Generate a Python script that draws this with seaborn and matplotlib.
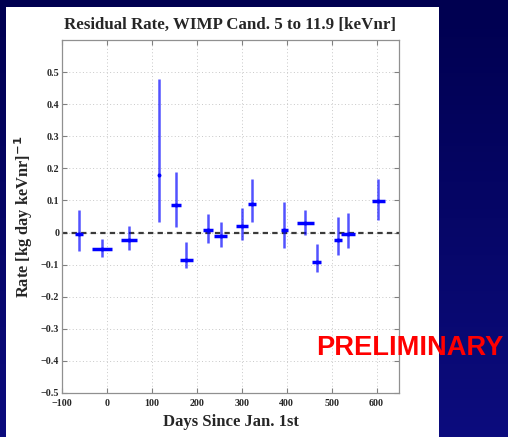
import numpy as np
import matplotlib
matplotlib.use("Agg")
import matplotlib.pyplot as plt
import seaborn as sns
import pandas as pd
from matplotlib.patches import Rectangle
from matplotlib.colors import LinearSegmentedColormap

# ---- data ----
days = [-62, -11, 49, 115, 153, 177, 225, 253, 300, 322, 395, 441, 467, 515, 536, 604]
rate = [-0.004, -0.050, -0.022, 0.180, 0.087, -0.086, 0.007, -0.011,
        0.020, 0.090, 0.009, 0.030, -0.091, -0.024, -0.003, 0.097]
rate_hi = [0.071, -0.019, 0.020, 0.477, 0.190, -0.028, 0.059, 0.032,
           0.077, 0.167, 0.095, 0.071, -0.037, 0.049, 0.061, 0.168]
rate_lo = [-0.058, -0.075, -0.055, 0.033, 0.018, -0.110, -0.034, -0.044,
           -0.024, 0.032, -0.048, -0.008, -0.122, -0.071, -0.048, 0.040]
days_half = [8, 23, 18, 1, 11, 14, 12, 15, 13, 9, 7, 19, 10, 9, 16, 14]

xticks = [-100, 0, 100, 200, 300, 400, 500, 600]
yticks = [-0.5, -0.4, -0.3, -0.2, -0.1, 0, 0.1, 0.2, 0.3, 0.4, 0.5]
ytick_labels = ["\u22120.5", "\u22120.4", "\u22120.3", "\u22120.2", "\u22120.1", "0",
                "0.1", "0.2", "0.3", "0.4", "0.5"]

df = pd.DataFrame({"days": days, "rate": rate})

sns.set_theme(style="white")
plt.rcParams["font.family"] = ["Liberation Serif", "DejaVu Serif"]

W, H = 508, 437
fig = plt.figure(figsize=(W / 100, H / 100), dpi=100)

# background gradient + white panel
bg = fig.add_axes([0, 0, 1, 1], zorder=-10)
grad = np.linspace(0, 1, 256).reshape(-1, 1)
cmap = LinearSegmentedColormap.from_list("bg", ["#000050", "#0c0c7e"])
bg.imshow(grad, aspect="auto", cmap=cmap, extent=[0, 1, 0, 1], origin="upper")
bg.add_patch(Rectangle((6 / W, 0), (439 - 6) / W, (H - 7) / H, facecolor="white",
                       edgecolor="none", transform=bg.transAxes))
bg.set_xlim(0, 1)
bg.set_ylim(0, 1)
bg.axis("off")

ax = fig.add_axes([62 / W, (H - 393) / H, (399 - 62) / W, (393 - 40) / H])
ax.set_facecolor("white")

# zero reference line
ax.axhline(0, color="#3a3a3a", lw=1.6, ls=(0, (2.4, 1.9)), zorder=2)

yerr = [np.array(rate) - np.array(rate_lo), np.array(rate_hi) - np.array(rate)]
ax.errorbar(days, rate, yerr=yerr, fmt="none", ecolor="#0000ff", alpha=0.68,
            elinewidth=1.8, capsize=0, zorder=3)
ax.errorbar(days, rate, xerr=days_half, fmt="none", ecolor="#0000ff",
            elinewidth=2.5, capsize=0, zorder=4)
sns.scatterplot(data=df, x="days", y="rate", ax=ax, color="#0000ff", s=8,
                linewidth=0, zorder=5, legend=False)

ax.set_xlim(-100, 650)
ax.set_ylim(-0.5, 0.6)
ax.set_xticks(xticks)
ax.set_xticklabels([str(t).replace("-", "\u2212") for t in xticks])
ax.set_yticks(yticks)
ax.set_yticklabels(ytick_labels)
ax.grid(True, ls=(0, (1, 2.5)), color="#c8c8c8", lw=0.7)
ax.tick_params(direction="in", length=3.5, width=0.8, color="#808080",
               top=True, right=True, bottom=True, left=True,
               labelsize=7.2)
ax.tick_params(axis="x", pad=4.5)
ax.tick_params(axis="y", pad=2)
for lbl in ax.get_xticklabels() + ax.get_yticklabels():
    lbl.set_fontweight("bold")
for s in ax.spines.values():
    s.set_color("#909090")
    s.set_linewidth(0.9)

ax.set_xlabel("Days Since Jan. 1st", fontsize=12, fontweight="bold", labelpad=4)
ax.set_ylabel("Rate [kg day keVnr]$^{\\mathbf{-1}}$", fontsize=11.8, fontweight="bold",
              labelpad=4)
ax.set_title("Residual Rate, WIMP Cand. 5 to 11.9 [keVnr]", fontsize=12.2,
             fontweight="bold", pad=8)

fig.text(409.5 / W, 1 - 348 / H, "PRELIMINARY", color="#ff0000", fontsize=19.6,
         fontweight="bold", family=["Liberation Sans", "DejaVu Sans"],
         ha="center", va="center")

fig.savefig("out.png", dpi=100)
